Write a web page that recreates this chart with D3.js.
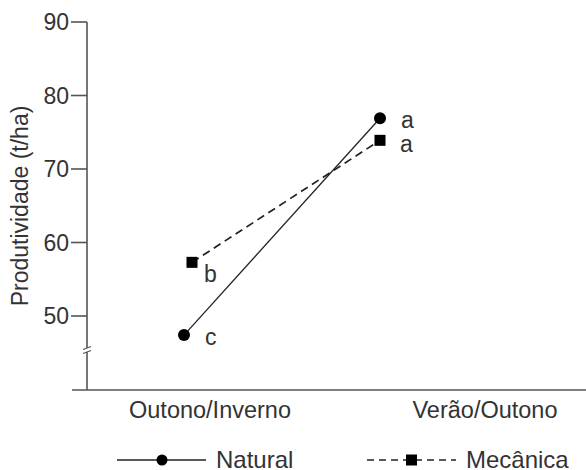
<!DOCTYPE html>
<html>
<head>
<meta charset="utf-8">
<script src="https://cdn.jsdelivr.net/npm/d3@7"></script>
<style>
  body { margin: 0; background: #fff; }
  text { font-family: "Liberation Sans", Arial, sans-serif; fill: #333; }
</style>
</head>
<body>
<svg id="chart"></svg>
<script>
// data
const seasons = ['Outono/Inverno', 'Verão/Outono']
const natural = [47.4, 76.9]
const mecanica = [57.3, 73.9]
const naturalLetters = ['c', 'a']
const mecanicaLetters = ['b', 'a']
const yTicks = [50, 60, 70, 80, 90]

const width = 586, height = 470
const svg = d3.select('#chart').attr('width', width).attr('height', height)

const axisColor = '#555'
const lineColor = '#222'

// y scale: 90 at y=22, 50 at y=316
const y = d3.scaleLinear().domain([50, 90]).range([316, 22])
// category label positions
const xLabel = d3.scalePoint().domain(seasons).range([210, 485])
// mark positions
const xMark = d3.scalePoint().domain(seasons).range([184, 380])

const axisX = 87, baseY = 390

// y axis line
svg.append('line')
    .attr('x1', axisX).attr('x2', axisX)
    .attr('y1', y(90)).attr('y2', baseY)
    .attr('stroke', axisColor).attr('stroke-width', 1.6)

// break marks on y axis
const breakY = 350
svg.append('rect')
    .attr('x', axisX - 3).attr('y', breakY - 2).attr('width', 6).attr('height', 4)
    .attr('fill', '#fff')
;[-2, 2].forEach(o => {
    svg.append('line')
        .attr('x1', axisX - 4).attr('y1', breakY + o + 1.5)
        .attr('x2', axisX + 4).attr('y2', breakY + o - 1.5)
        .attr('stroke', axisColor).attr('stroke-width', 1.2)
})

// y ticks
const ty = svg.append('g').selectAll('g').data(yTicks).enter().append('g')
ty.append('line')
    .attr('x1', 71).attr('x2', axisX)
    .attr('y1', d => y(d)).attr('y2', d => y(d))
    .attr('stroke', axisColor).attr('stroke-width', 1.6)
ty.append('text')
    .attr('x', 69).attr('y', d => y(d))
    .attr('dy', '0.36em')
    .attr('text-anchor', 'end')
    .attr('font-size', 23)
    .text(d => d)

// y title
svg.append('text')
    .attr('transform', 'translate(28, 206) rotate(-90)')
    .attr('text-anchor', 'middle')
    .attr('font-size', 23)
    .text('Produtividade (t/ha)')

// x axis
svg.append('line')
    .attr('x1', 72).attr('x2', width)
    .attr('y1', baseY).attr('y2', baseY)
    .attr('stroke', axisColor).attr('stroke-width', 1.6)

svg.append('g').selectAll('text').data(seasons).enter().append('text')
    .attr('x', d => xLabel(d)).attr('y', 418)
    .attr('text-anchor', 'middle')
    .attr('font-size', 23.5)
    .text(d => d)

const line = d3.line()
    .x((d, i) => xMark(seasons[i]))
    .y(d => y(d))

// Mecânica dashed (first point slightly offset)
const mx = i => xMark(seasons[i]) + (i === 0 ? 8 : 0)
svg.append('path')
    .attr('d', d3.line().x((d, i) => mx(i)).y(d => y(d))(mecanica))
    .attr('fill', 'none').attr('stroke', lineColor)
    .attr('stroke-width', 1.7).attr('stroke-dasharray', '8,5')

// Natural solid
svg.append('path')
    .attr('d', line(natural))
    .attr('fill', 'none').attr('stroke', lineColor).attr('stroke-width', 1.3)

svg.append('g').selectAll('rect').data(mecanica).enter().append('rect')
    .attr('x', (d, i) => mx(i) - 5.5)
    .attr('y', d => y(d) - 5.5)
    .attr('width', 11).attr('height', 11)
    .attr('fill', '#000')

svg.append('g').selectAll('circle').data(natural).enter().append('circle')
    .attr('cx', (d, i) => xMark(seasons[i]))
    .attr('cy', d => y(d))
    .attr('r', 6)
    .attr('fill', '#000')

// significance letters
svg.append('g').selectAll('text').data(natural).enter().append('text')
    .attr('x', (d, i) => xMark(seasons[i]) + 21)
    .attr('y', (d, i) => y(d) + 10)
    .attr('font-size', 23)
    .text((d, i) => naturalLetters[i])

svg.append('g').selectAll('text').data(mecanica).enter().append('text')
    .attr('x', (d, i) => mx(i) + (i === 0 ? 12 : 20))
    .attr('y', (d, i) => y(d) + (i === 0 ? 20 : 12))
    .attr('font-size', 23)
    .text((d, i) => mecanicaLetters[i])

// legend
const ly = 460
const leg = svg.append('g')
leg.append('line').attr('x1', 117).attr('x2', 206).attr('y1', ly).attr('y2', ly)
    .attr('stroke', lineColor).attr('stroke-width', 1.3)
leg.append('circle').attr('cx', 162).attr('cy', ly).attr('r', 5.5).attr('fill', '#000')
leg.append('text').attr('x', 216).attr('y', ly + 8).attr('font-size', 24).text('Natural')

leg.append('line').attr('x1', 367).attr('x2', 456).attr('y1', ly).attr('y2', ly)
    .attr('stroke', lineColor).attr('stroke-width', 1.6).attr('stroke-dasharray', '7,5')
leg.append('rect').attr('x', 406).attr('y', ly - 5.5).attr('width', 11).attr('height', 11).attr('fill', '#000')
leg.append('text').attr('x', 466).attr('y', ly + 8).attr('font-size', 24).text('Mecânica')
</script>
</body>
</html>
